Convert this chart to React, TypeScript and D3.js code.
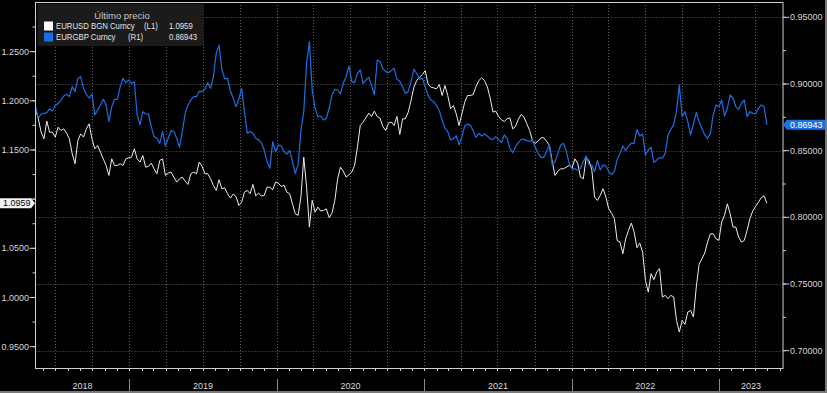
import React from 'react';
import * as d3 from 'd3';

// weekly closes, first point 2018-05-13
const START = new Date(2018, 4, 13);

const eurusd = [
  1.1919, 1.1817, 1.1681, 1.1614, 1.1793, 1.1681, 1.1681, 1.1631, 1.1732, 1.1698,
  1.1715, 1.1671, 1.1614, 1.1461, 1.1360, 1.1597, 1.1664, 1.1631, 1.1715, 1.1766,
  1.1614, 1.1512, 1.1546, 1.1478, 1.1410, 1.1343, 1.1241, 1.1410, 1.1343, 1.1343,
  1.1360, 1.1343, 1.1410, 1.1421, 1.1427, 1.1512, 1.1410, 1.1377, 1.1444, 1.1326,
  1.1333, 1.1366, 1.1309, 1.1258, 1.1393, 1.1410, 1.1241, 1.1265, 1.1275, 1.1224,
  1.1173, 1.1207, 1.1224, 1.1183, 1.1150, 1.1258, 1.1275, 1.1258, 1.1377, 1.1333,
  1.1258, 1.1258, 1.1207, 1.1139, 1.1089, 1.1197, 1.1106, 1.1116,
  1.1055, 1.1011, 1.1051, 1.1028, 1.0936, 1.0967, 1.1072, 1.1089, 1.1055, 1.1150,
  1.1034, 1.1062, 1.1031, 1.1038, 1.1122, 1.1122, 1.1095, 1.1173, 1.1163, 1.1129,
  1.1143, 1.1072, 1.1055, 1.0953, 1.0851, 1.0835, 1.1021, 1.1427, 1.1122, 1.0716,
  1.0987, 1.0868, 1.0919, 1.0879, 1.0885, 1.0902, 1.0811, 1.0858, 1.0987, 1.1207,
  1.1326, 1.1285, 1.1224, 1.1248, 1.1275, 1.1343, 1.1529, 1.1749, 1.1783, 1.1827,
  1.1875, 1.1841, 1.1895, 1.1841, 1.1824, 1.1739, 1.1698, 1.1773, 1.1783, 1.1749,
  1.1841, 1.1658, 1.1817, 1.1817, 1.1885,
  1.2003, 1.2139, 1.2206, 1.2240, 1.2267, 1.2308, 1.2173, 1.2139, 1.2132, 1.2122,
  1.2166, 1.2054, 1.2156, 1.2054, 1.1919, 1.1952, 1.1868, 1.1749, 1.1868, 1.1986,
  1.2054, 1.2054, 1.2064, 1.2146, 1.2206, 1.2234, 1.2206, 1.2146, 1.2030, 1.1885,
  1.1895, 1.1841, 1.1807, 1.1790, 1.1817, 1.1827, 1.1715, 1.1739, 1.1814, 1.1861,
  1.1834, 1.1766, 1.1698, 1.1597, 1.1570, 1.1590, 1.1624, 1.1624, 1.1590, 1.1546,
  1.1377, 1.1241, 1.1285, 1.1309, 1.1309, 1.1326, 1.1343, 1.1316, 1.1410, 1.1366,
  1.1224, 1.1207, 1.1421, 1.1393, 1.1299, 1.1021,
  1.0987, 1.1038, 1.1106, 1.1021, 1.0902, 1.0858, 1.0801, 1.0580, 1.0564, 1.0445,
  1.0597, 1.0682, 1.0757, 1.0665, 1.0506, 1.0553, 1.0462, 1.0174, 1.0055, 1.0242,
  1.0181, 1.0259, 1.0293, 1.0005, 1.0022, 0.9988, 1.0022, 1.0005, 0.9767, 0.9649,
  0.9767, 0.9727, 0.9852, 0.9869, 0.9801, 1.0106, 1.0337, 1.0394, 1.0452, 1.0564,
  1.0648, 1.0648, 1.0597, 1.0580, 1.0767, 1.0835, 1.0953, 1.0851, 1.0716, 1.0716,
  1.0614, 1.0564, 1.0580, 1.0682, 1.0801, 1.0879, 1.0926, 1.0970, 1.1014, 1.1034, 1.0959,
];

const eurgbp = [
  0.8830, 0.8743, 0.8775, 0.8780, 0.8785, 0.8813, 0.8798, 0.8840, 0.8853, 0.8878,
  0.8910, 0.8923, 0.8905, 0.8980, 0.8943, 0.9043, 0.9055, 0.8968, 0.8923, 0.8895,
  0.8925, 0.8768, 0.8805, 0.8843, 0.8885, 0.8843, 0.8718, 0.8830, 0.8885, 0.8885,
  0.8980, 0.9043, 0.9010, 0.9030, 0.9005, 0.9015, 0.8768, 0.8693, 0.8793, 0.8775,
  0.8775, 0.8680, 0.8605, 0.8593, 0.8555, 0.8643, 0.8535, 0.8593, 0.8650, 0.8643,
  0.8593, 0.8525, 0.8643, 0.8780, 0.8843, 0.8880, 0.8905, 0.8905, 0.8945, 0.8943,
  0.8960, 0.9010, 0.8968, 0.9055, 0.9230, 0.9293, 0.9110, 0.9038,
  0.9043, 0.8950, 0.8895, 0.8830, 0.8885, 0.8968, 0.8793, 0.8630, 0.8643, 0.8630,
  0.8593, 0.8580, 0.8560, 0.8505, 0.8418, 0.8368, 0.8568, 0.8493, 0.8543, 0.8535,
  0.8493, 0.8475, 0.8500, 0.8418, 0.8330, 0.8393, 0.8655, 0.8793, 0.9155, 0.9318,
  0.8955, 0.8818, 0.8755, 0.8760, 0.8730, 0.8743, 0.8818, 0.8918, 0.8960, 0.8955,
  0.8925, 0.9005, 0.9055, 0.9135, 0.9018, 0.9010, 0.9080, 0.9105, 0.9005, 0.9030,
  0.9050, 0.8993, 0.8918, 0.9180, 0.9168, 0.9118, 0.9093, 0.9085, 0.9100, 0.9118,
  0.9035, 0.9020, 0.8975, 0.8930, 0.8943,
  0.9018, 0.9110, 0.9080, 0.9035, 0.9043, 0.8980, 0.8918, 0.8880, 0.8868, 0.8840,
  0.8800, 0.8730, 0.8668, 0.8643, 0.8580, 0.8590, 0.8610, 0.8543, 0.8605, 0.8685,
  0.8700, 0.8690, 0.8650, 0.8600, 0.8630, 0.8610, 0.8625, 0.8610, 0.8588, 0.8585,
  0.8605, 0.8585, 0.8560, 0.8618, 0.8593, 0.8518, 0.8485, 0.8530, 0.8560, 0.8585,
  0.8585, 0.8575, 0.8570, 0.8580, 0.8525, 0.8480, 0.8450, 0.8450, 0.8493, 0.8543,
  0.8393, 0.8418, 0.8480, 0.8543, 0.8555, 0.8493, 0.8405, 0.8363, 0.8363, 0.8355,
  0.8368, 0.8418, 0.8460, 0.8393, 0.8393, 0.8343,
  0.8425, 0.8355, 0.8393, 0.8385, 0.8343, 0.8320, 0.8343, 0.8435, 0.8480, 0.8535,
  0.8500, 0.8535, 0.8555, 0.8555, 0.8660, 0.8610, 0.8625, 0.8468, 0.8505, 0.8525,
  0.8410, 0.8430, 0.8450, 0.8443, 0.8480, 0.8618, 0.8660, 0.8693, 0.8793, 0.8993,
  0.8755, 0.8793, 0.8718, 0.8618, 0.8705, 0.8785, 0.8718, 0.8668, 0.8618, 0.8593,
  0.8630, 0.8768, 0.8843, 0.8830, 0.8880, 0.8760, 0.8818, 0.8918, 0.8893, 0.8830,
  0.8810, 0.8855, 0.8880, 0.8755, 0.8793, 0.8780, 0.8775, 0.8818, 0.8843, 0.8830, 0.86943,
];

const leftTicks = [0.95, 1.0, 1.05, 1.1, 1.15, 1.2, 1.25];
const rightTicks = [0.7, 0.75, 0.8, 0.85, 0.9, 0.95];
const years = [2018, 2019, 2020, 2021, 2022, 2023];
const lastUsd = '1.0959';
const lastGbp = '0.86943';

const W = 827;
const H = 393;
const L = 35.5;
const R = 783;
const T = 2;
const B = 368;

const BLUE = '#1a6fe3';
const WHITE = '#ededed';
const AXIS = '#cfcfcf';
const GRID = '#5e5e5e';
const FONT = '"Liberation Sans", Arial, sans-serif';

// legend text is narrow in the original, squeeze it horizontally
const SQ = 0.82;

export default function App() {
  const dates = eurusd.map((_, i) => d3.timeWeek.offset(START, i));

  const x = d3.scaleTime()
    .domain([new Date(2018, 4, 13), new Date(2023, 5, 9)])
    .range([L, R]);
  const yL = d3.scaleLinear().domain([0.9283, 1.3005]).range([B, T]);
  const yR = d3.scaleLinear().domain([0.687, 0.9615]).range([B, T]);

  const usdLine = d3.line<number>()
    .x((_, i) => x(dates[i]))
    .y(d => yL(d));
  const gbpLine = d3.line<number>()
    .x((_, i) => x(dates[i]))
    .y(d => yR(d));

  const [d0, d1] = x.domain();
  const months = d3.timeMonth.range(d0, d1);
  const quarters = d3.timeMonth.every(3)!.range(d0, d1);
  const leftMinor = d3.range(38, 52).map(k => k * 0.025);
  const rightMinor = d3.range(28, 39).map(k => k * 0.025);

  const yUsd = yL(+lastUsd);
  const yGbp = yR(+lastGbp);

  return (
    <div style={{ width: W, height: H, background: '#000' }}>
      <style>{'body{margin:0;background:#000}'}</style>
      <svg width={W} height={H} style={{ display: 'block', fontFamily: FONT }}>
        <rect width={W} height={H} fill="#000" />

        {/* grid */}
        {rightTicks.map(t => (
          <line key={'h' + t} x1={L} x2={R} y1={Math.round(yR(t)) + 0.5} y2={Math.round(yR(t)) + 0.5}
            stroke={GRID} strokeDasharray="1,2" />
        ))}
        {quarters.map(q => (
          <line key={'v' + q.getTime()} x1={Math.round(x(q)) + 0.5} x2={Math.round(x(q)) + 0.5} y1={T} y2={B}
            stroke={GRID} strokeDasharray="1,2" />
        ))}

        {/* series */}
        <path d={usdLine(eurusd) || ''} fill="none" stroke={WHITE} strokeWidth={1} strokeLinejoin="round" />
        <path d={gbpLine(eurgbp) || ''} fill="none" stroke={BLUE} strokeWidth={1.2} strokeLinejoin="round" />

        {/* frame */}
        <rect x={L} y={T + 0.5} width={R - L} height={B - T} fill="none" stroke={AXIS} strokeWidth={1} />

        {/* left axis */}
        {leftMinor.map(t => (
          <line key={'lm' + t} x1={L - 3} x2={L} y1={yL(t)} y2={yL(t)} stroke={AXIS} />
        ))}
        {leftTicks.map(t => (
          <g key={'l' + t}>
            <line x1={L - 6} x2={L} y1={yL(t)} y2={yL(t)} stroke={AXIS} />
            {Math.abs(yL(t) - yUsd) > 10 && (
              <text x={L - 6.5} y={yL(t)} dy="0.35em" textAnchor="end" fontSize={9} fill="#d6d6d6">
                {t.toFixed(4)}
              </text>
            )}
          </g>
        ))}

        {/* right axis */}
        {rightMinor.map(t => (
          <line key={'rm' + t} x1={R} x2={R + 3} y1={yR(t)} y2={yR(t)} stroke={AXIS} />
        ))}
        {rightTicks.map(t => (
          <g key={'r' + t}>
            <line x1={R} x2={R + 6} y1={yR(t)} y2={yR(t)} stroke={AXIS} />
            <text x={R + 7} y={yR(t)} dy="0.35em" fontSize={9} fill="#d6d6d6">
              {t.toFixed(5)}
            </text>
          </g>
        ))}

        {/* bottom axis */}
        {months.map(m => (
          <line key={'m' + m.getTime()} x1={Math.round(x(m)) + 0.5} x2={Math.round(x(m)) + 0.5} y1={B} y2={B + 3}
            stroke={AXIS} />
        ))}
        {years.map(yr => {
          const a = Math.max(L, x(new Date(yr, 0, 1)));
          const b = Math.min(R, x(new Date(yr + 1, 0, 1)));
          return (
            <g key={'y' + yr}>
              {yr > 2018 && (
                <line x1={Math.round(a) + 0.5} x2={Math.round(a) + 0.5} y1={379} y2={391} stroke="#8a8a8a" />
              )}
              <text x={(a + b) / 2} y={389} textAnchor="middle" fontSize={9} fill="#dcdcdc">{yr}</text>
            </g>
          );
        })}

        {/* last value tags */}
        <path d={`M0,${yUsd - 5}H31L35,${yUsd}L31,${yUsd + 5}H0Z`} fill="#f4f4f4" />
        <text x={3} y={yUsd} dy="0.35em" fontSize={9} fill="#000">{lastUsd}</text>
        <path d={`M${R},${yGbp}L${R + 4},${yGbp - 5}H${W}V${yGbp + 5}H${R + 4}Z`} fill={BLUE} />
        <text x={R + 7} y={yGbp} dy="0.35em" fontSize={9} fill="#fff">{lastGbp}</text>

        {/* legend */}
        <rect x={37.5} y={4} width={166} height={42} fill="#1b1b1b" />
        <text x={122} y={18.5} textAnchor="middle" fontSize={9.5} fill="#c8c8c8">Último precio</text>
        <rect x={44} y={21.5} width={9} height={9} fill="#fff" />
        <rect x={44} y={32.5} width={9} height={9} fill={BLUE} />
        <g transform={`translate(56,0) scale(${SQ},1)`} fontSize={9.5} fill="#e6e6e6">
          <text y={29.5}>
            <tspan x={0}>EURUSD BGN Curncy</tspan>
            <tspan x={88 / SQ}>(L1)</tspan>
            <tspan x={113 / SQ}>{lastUsd}</tspan>
          </text>
          <text y={40.5}>
            <tspan x={0}>EURGBP Curncy</tspan>
            <tspan x={72 / SQ}>(R1)</tspan>
            <tspan x={113 / SQ}>{lastGbp}</tspan>
          </text>
        </g>

        {/* outer border */}
        <rect x={0} y={391} width={W} height={2} fill="#7a7a7a" />
        <rect x={825} y={0} width={2} height={H} fill="#7a7a7a" />
      </svg>
    </div>
  );
}
